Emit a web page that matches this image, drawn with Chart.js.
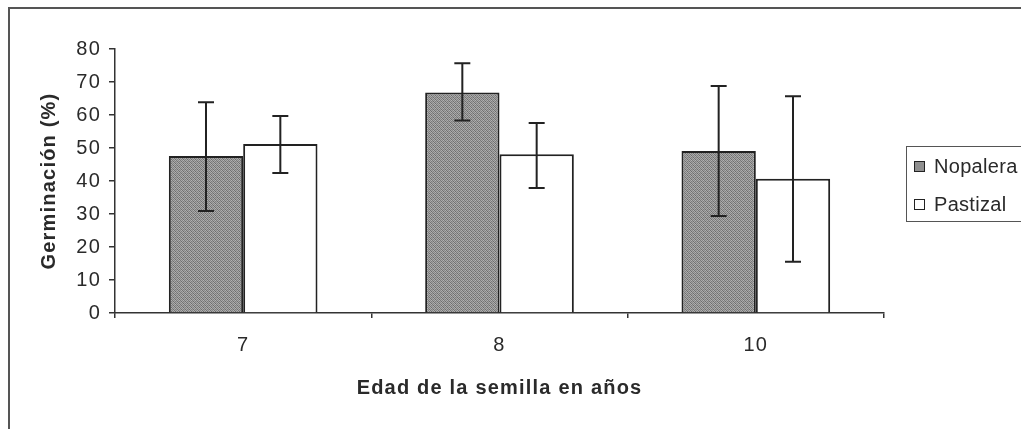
<!DOCTYPE html>
<html>
<head>
<meta charset="utf-8">
<script src="https://cdn.jsdelivr.net/npm/chart.js@4/dist/chart.umd.min.js"></script>
<style>
  body { margin: 0; background: #fff; overflow: hidden; }
  #wrap { position: relative; width: 1021px; height: 429px; overflow: hidden; }
  #frame { position: absolute; left: 8px; top: 7px; width: 1030px; height: 440px;
           border-left: 2px solid #555; border-top: 2px solid #555; }
  #myChart { position: absolute; left: 0; top: 0; }
  #legend { position: absolute; left: 906px; top: 146px; width: 130px; height: 74px;
            border: 1px solid #555; font-family: "Liberation Sans", Arial, sans-serif;
            font-size: 20px; color: #2a2a2a; letter-spacing: 0.3px; }
  .item { position: absolute; left: 7px; height: 24px; line-height: 24px; white-space: nowrap; }
  .sw { display: inline-block; width: 9px; height: 9px; border: 1.5px solid #222;
        margin-right: 9px; vertical-align: 1px; }
</style>
</head>
<body>
<div id="wrap">
  <div id="frame"></div>
  <canvas id="myChart" width="1021" height="429"></canvas>
  <div id="legend"></div>
</div>
<script>
// seed age categories
var ages = ["7", "8", "10"];
var seriesNames = ["Nopalera", "Pastizal"];

// mean germination (%)
var nopalera = [47.6, 66.8, 49.1];
var pastizal = [51.2, 48.1, 40.7];

// error bar ends
var nopaleraLow = [30.9, 58.3, 29.4];
var nopaleraHigh = [63.9, 75.7, 68.8];
var pastizalLow = [42.4, 37.9, 15.5];
var pastizalHigh = [59.7, 57.6, 65.7];

var yTicks = [0, 10, 20, 30, 40, 50, 60, 70, 80];

var fontFamily = '"Liberation Sans", Arial, sans-serif';
var ink = "#2a2a2a";

// stippled gray fill like the scanned original
function makePattern() {
  var c = document.createElement("canvas");
  c.width = 4;
  c.height = 4;
  var g = c.getContext("2d");
  var shades = [
    "#7a7a7a", "#a8a8a8", "#858585", "#b2b2b2",
    "#a0a0a0", "#6e6e6e", "#aaaaaa", "#7c7c7c",
    "#888888", "#b0b0b0", "#727272", "#a4a4a4",
    "#a6a6a6", "#808080", "#acacac", "#6c6c6c"
  ];
  for (var i = 0; i < 16; i++) {
    g.fillStyle = shades[i];
    g.fillRect(i % 4, Math.floor(i / 4), 1, 1);
  }
  return g.createPattern(c, "repeat");
}

var ctx = document.getElementById("myChart").getContext("2d");
var grayFill = makePattern();

var errorBars = {
  id: "errorBars",
  afterDatasetsDraw: function (chart) {
    var c = chart.ctx;
    var yScale = chart.scales.y;
    var lows = [nopaleraLow, pastizalLow];
    var highs = [nopaleraHigh, pastizalHigh];
    c.save();
    c.strokeStyle = "#222";
    c.lineWidth = 2;
    for (var d = 0; d < chart.data.datasets.length; d++) {
      var meta = chart.getDatasetMeta(d);
      for (var i = 0; i < meta.data.length; i++) {
        var x = meta.data[i].x;
        var yl = yScale.getPixelForValue(lows[d][i]);
        var yh = yScale.getPixelForValue(highs[d][i]);
        c.beginPath();
        c.moveTo(x, yl);
        c.lineTo(x, yh);
        c.moveTo(x - 8, yl);
        c.lineTo(x + 8, yl);
        c.moveTo(x - 8, yh);
        c.lineTo(x + 8, yh);
        c.stroke();
      }
    }
    c.restore();
  }
};

var spacing = {
  id: "spacing",
  beforeDraw: function (chart) {
    chart.ctx.letterSpacing = "1.2px";
  },
  afterDraw: function (chart) {
    chart.ctx.letterSpacing = "0px";
  }
};

var myChart = new Chart(ctx, {
  type: "bar",
  data: {
    labels: ages,
    datasets: [
      {
        label: seriesNames[0],
        data: nopalera,
        backgroundColor: grayFill,
        borderColor: "#222",
        borderWidth: 2
      },
      {
        label: seriesNames[1],
        data: pastizal,
        backgroundColor: "#ffffff",
        borderColor: "#222",
        borderWidth: 2
      }
    ]
  },
  options: {
    responsive: false,
    animation: false,
    layout: { padding: { left: 0, right: 137, top: 49, bottom: 0 } },
    plugins: {
      legend: { display: false },
      tooltip: { enabled: false }
    },
    datasets: {
      bar: { categoryPercentage: 0.58, barPercentage: 1.0 }
    },
    scales: {
      x: {
        afterFit: function (s) { s.height = 116; },
        grid: { display: true, drawOnChartArea: false, offset: true, tickLength: 5, color: "#333", lineWidth: 1.5 },
        border: { display: true, color: "#333", width: 1.5 },
        ticks: {
          color: ink,
          padding: 15,
          font: { family: fontFamily, size: 20 }
        },
        title: {
          display: true,
          text: "Edad de la semilla en años",
          color: ink,
          font: { family: fontFamily, size: 20, weight: "bold" },
          padding: { top: 0, bottom: 29 }
        }
      },
      y: {
        min: 0,
        max: 80,
        afterFit: function (s) { s.width = 115; },
        afterBuildTicks: function (s) {
          s.ticks = yTicks.map(function (v) { return { value: v }; });
        },
        grid: { display: true, drawOnChartArea: false, tickLength: 6, color: "#333", lineWidth: 1.5 },
        border: { display: true, color: "#333", width: 1.5 },
        ticks: {
          color: ink,
          padding: 8,
          font: { family: fontFamily, size: 20 }
        },
        title: {
          display: true,
          text: "Germinación (%)",
          color: ink,
          font: { family: fontFamily, size: 20, weight: "bold" },
          padding: { top: 37, bottom: 0 }
        }
      }
    }
  },
  plugins: [errorBars, spacing]
});

// legend box
var legend = document.getElementById("legend");
var swatchFills = ["#8f8f8f", "#ffffff"];
for (var i = 0; i < seriesNames.length; i++) {
  var item = document.createElement("div");
  item.className = "item";
  item.style.top = (7 + i * 38) + "px";
  item.innerHTML = '<span class="sw" style="background:' + swatchFills[i] + '"></span>' + seriesNames[i];
  legend.appendChild(item);
}
</script>
</body>
</html>
